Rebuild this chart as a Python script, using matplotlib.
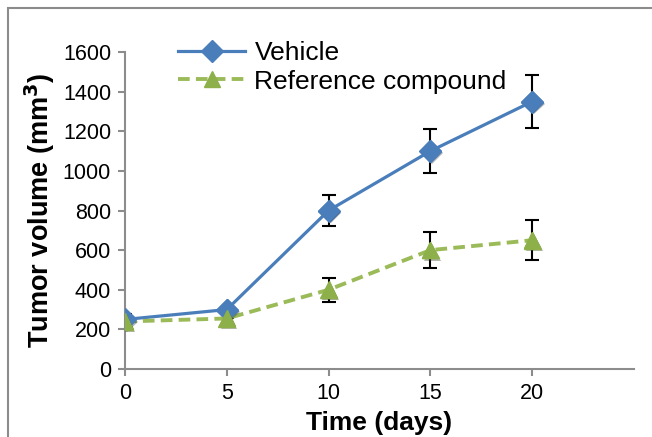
import matplotlib
matplotlib.use('Agg')
import matplotlib.pyplot as plt
import matplotlib.patheffects as pe
from matplotlib.patches import Rectangle

plt.rcParams['font.family'] = ['Liberation Sans', 'DejaVu Sans']

# data
days = [0, 5, 10, 15, 20]
vehicle = [250, 300, 800, 1100, 1350]
vehicle_err = [30, 0, 80, 110, 135]
reference = [240, 255, 400, 600, 650]
reference_err = [25, 0, 60, 90, 100]
x_ticks = [0, 5, 10, 15, 20]
y_ticks = [0, 200, 400, 600, 800, 1000, 1200, 1400, 1600]

fig = plt.figure(figsize=(6.52, 4.37), dpi=100)
ax = fig.add_axes([0.1917, 0.1556, 0.7807, 0.7254])

# outer chart frame (Excel style)
fig.patches.append(Rectangle((0.0123, -0.2), 1.5, 0.9817 + 0.2, transform=fig.transFigure,
                             fill=False, edgecolor='#8c8c8c', linewidth=1.5))

ax.errorbar(days, vehicle, yerr=vehicle_err, fmt='none', ecolor='black',
            elinewidth=1.5, capsize=5, capthick=1.5, zorder=2)
ax.errorbar(days, reference, yerr=reference_err, fmt='none', ecolor='black',
            elinewidth=1.5, capsize=5, capthick=1.5, zorder=2)

shadow = [pe.SimplePatchShadow(offset=(1.5, -1.5), alpha=0.35), pe.Normal()]

ax.plot(days, vehicle, color='#4a7ebb', linewidth=2.3, label='Vehicle', zorder=3,
        marker='D', markersize=11, markerfacecolor='#4a7ebb', markeredgecolor='#4a7ebb')
ax.plot(days, vehicle, linestyle='none', marker='D', markersize=11, color='#4a7ebb',
        path_effects=shadow, zorder=4)
ax.plot(days, reference, color='#9bbb59', linewidth=2.8, linestyle=(0, (3, 1.6)),
        marker='^', markersize=12, markerfacecolor='#8db04a', markeredgecolor='#8db04a',
        label='Reference compound', zorder=3)
ax.plot(days, reference, linestyle='none', marker='^', markersize=12, color='#8db04a',
        path_effects=shadow, zorder=4)

ax.set_xlim(0, 25)
ax.set_ylim(0, 1600)
ax.set_xticks(x_ticks)
ax.set_yticks(y_ticks)
ax.tick_params(axis='both', labelsize=15.5, color='#8c8c8c', length=5, width=1.5,
               direction='out', pad=5)
for side in ['top', 'right']:
    ax.spines[side].set_visible(False)
for side in ['left', 'bottom']:
    ax.spines[side].set_color('#8c8c8c')
    ax.spines[side].set_linewidth(1.5)
for lbl in ax.get_xticklabels() + ax.get_yticklabels():
    lbl.set_clip_on(False)

ax.set_xlabel('Time (days)', fontsize=19, fontweight='bold', labelpad=5)
ax.set_ylabel('Tumor volume (mm$^\\mathbf{3}$)', fontsize=19.5, fontweight='bold', labelpad=4)

ax.legend(loc='upper left', bbox_to_anchor=(0.104, 1.035), frameon=False, fontsize=19,
          handlelength=2.55, handletextpad=0.35, labelspacing=0.18, borderaxespad=0,
          borderpad=0)

fig.savefig('out.png', dpi=100)
